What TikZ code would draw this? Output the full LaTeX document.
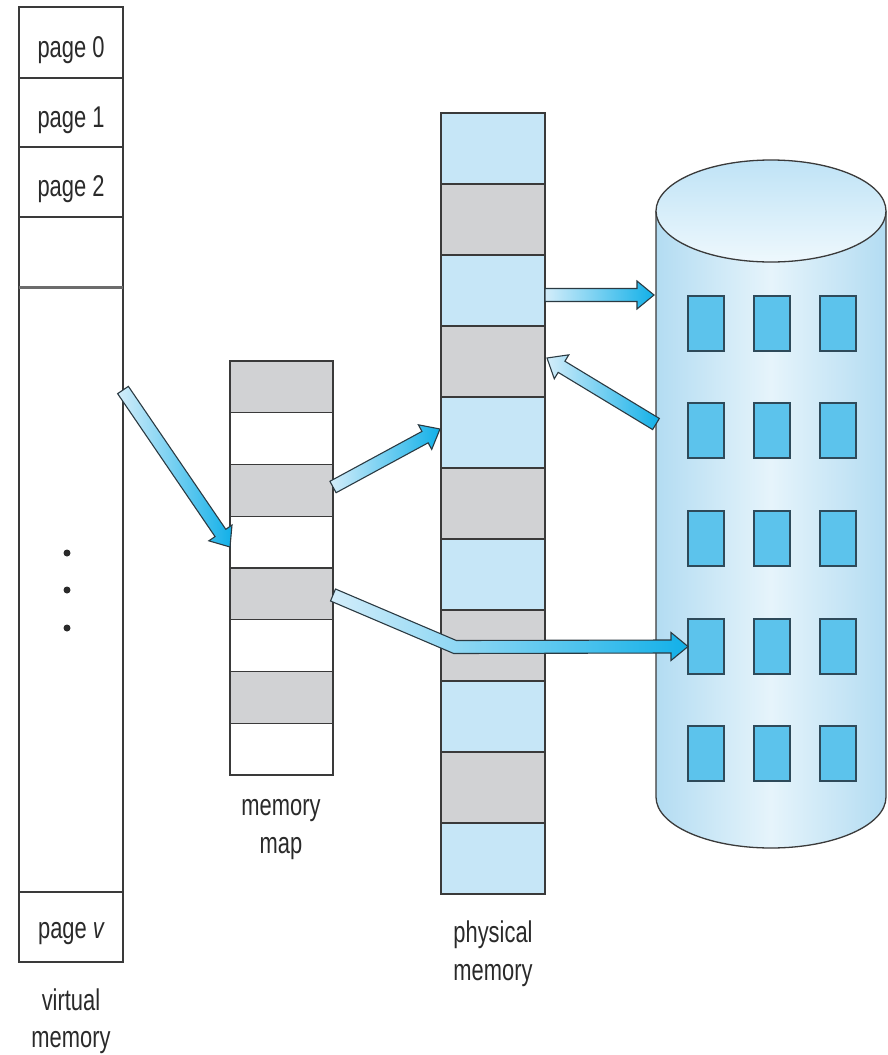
\documentclass[tikz,border=0pt]{standalone}
\usepackage{fontspec}
\newfontfamily\lbl{Liberation Sans}[FakeStretch=0.73]
\usetikzlibrary{calc}

\definecolor{boxline}{HTML}{3A3A3A}
\definecolor{cellgray}{HTML}{D1D2D4}
\definecolor{cellblue}{HTML}{C6E6F7}
\definecolor{cyledge}{HTML}{B3DCF2}
\definecolor{cylmid}{HTML}{E6F4FB}
\definecolor{captop}{HTML}{BFE3F6}
\definecolor{capbot}{HTML}{EEF8FD}
\definecolor{blockfill}{HTML}{5CC3EC}
\definecolor{blockline}{HTML}{2E4A5A}
\definecolor{arrowlight}{HTML}{D3EDFA}
\definecolor{arrowcyan}{HTML}{12B0E8}
\definecolor{arrowline}{HTML}{2B3A42}
\definecolor{textcol}{HTML}{2A2A2A}

\tikzset{
  cell/.style={draw=boxline, line width=1.3pt, inner sep=0pt, outer sep=0pt, anchor=north west},
  vcell/.style={cell, fill=white, minimum width=104pt},
  mcell/.style={cell, minimum width=103pt, minimum height=51.75pt},
  pcell/.style={cell, minimum width=104pt, minimum height=71pt},
  block/.style={draw=blockline, fill=blockfill, line width=1.3pt, inner sep=0pt, outer sep=0pt,
    minimum width=36pt, minimum height=55pt, anchor=north west},
  label/.style={font=\lbl\fontsize{30}{38}\selectfont, text=textcol, inner sep=0pt, align=center},
  fatarrow/.style={draw=arrowline, line width=1.1pt, line join=miter,
    left color=arrowlight, right color=arrowcyan},
}

% broad outlined arrow from one named point to another
\newcommand\fatarrow[2]{%
  \path let \p1=($(#2)-(#1)$) in \pgfextra{%
    \pgfmathsetmacro\fatlen{veclen(\x1,\y1)}%
    \pgfmathsetmacro\fatang{atan2(\y1,\x1)}%
    \global\let\fatlen\fatlen\global\let\fatang\fatang};
  \begin{scope}[shift={(#1)}, x={(1pt,0pt)}, y={(0pt,1pt)}, rotate=\fatang]
    \shade[fatarrow] (0,-6.5) -- ({\fatlen-17},-6.5) -- ({\fatlen-17},-14) -- (\fatlen,0)
      -- ({\fatlen-17},14) -- ({\fatlen-17},6.5) -- (0,6.5) -- cycle;
  \end{scope}}

\begin{document}
\begin{tikzpicture}[x=1pt, y=-1pt]
\useasboundingbox (0,0) rectangle (887,1055);

% ---- virtual memory ----
\node[vcell, minimum height=71pt] (vm0) at (19,7) {};
\node[vcell, minimum height=69pt] (vm1) at (19,78) {};
\node[vcell, minimum height=70pt] (vm2) at (19,147) {};
\node[vcell, minimum height=70pt] (vm3) at (19,217) {};
\node[vcell, minimum height=605pt] (vm4) at (19,287) {};
\node[vcell, minimum height=70pt] (vmv) at (19,892) {};
\draw[line width=3pt, draw=gray!85!black] (vm3.south west) -- (vm3.south east);
\draw[line width=2pt, draw=boxline] (vmv.south west) -- (vmv.south east);
\node[label, anchor=base] at (71,57) {page 0};
\node[label, anchor=base] at (71,127) {page 1};
\node[label, anchor=base] at (71,196) {page 2};
\node[label, anchor=base] at (71,938) {page {\itshape v}};
\foreach \yy in {553,590,628} \fill[textcol] (67,\yy) circle (3.5);
\node[label, anchor=base] at (71,1010) {virtual};
\node[label, anchor=base] at (71,1047) {memory};

% ---- memory map ----
\foreach \i in {0,...,7}{
  \ifodd\i \def\cf{white}\else\def\cf{cellgray}\fi
  \node[mcell, fill=\cf] (mm\i) at (230,{361+51.75*\i}) {};
}
\node[label, anchor=base] at (281,815) {memory};
\node[label, anchor=base] at (281,853) {map};

% ---- physical memory ----
\foreach \i in {0,...,10}{
  \ifodd\i \def\cf{cellgray}\else\def\cf{cellblue}\fi
  \node[pcell, fill=\cf] (pm\i) at (441,{113+71*\i}) {};
}
\node[label, anchor=base] at (493,942) {physical};
\node[label, anchor=base] at (493,980) {memory};

% ---- backing store cylinder ----
\coordinate (cyltop) at (771,211);
\shade[left color=cyledge, right color=cyledge, middle color=cylmid]
  (656,211) -- (656,797) arc[start angle=180, end angle=0, x radius=115, y radius=51]
  -- (886,211) -- cycle;
\draw[draw=boxline, line width=1.3pt]
  (656,211) -- (656,797) arc[start angle=180, end angle=0, x radius=115, y radius=51]
  -- (886,211);
\shade[top color=captop, bottom color=capbot, draw=boxline, line width=1.3pt]
  (cyltop) ellipse[x radius=115, y radius=51];
\foreach \r/\yy in {0/296,1/403,2/511,3/619,4/726}
  \foreach \c/\xx in {0/688,1/754,2/820}
    \node[block] (sq\r\c) at (\xx,\yy) {};

% ---- transfers ----
\coordinate (a1s) at (123,390);
\coordinate (a1t) at (230,547);
\coordinate (a2s) at (333,487);
\coordinate (a2t) at (440,429);
\coordinate (a3s) at (545,295);
\coordinate (a3t) at (654,295);
\coordinate (a4s) at (656,424);
\coordinate (a4t) at (547,358);
\fatarrow{a1s}{a1t}
\fatarrow{a2s}{a2t}
\fatarrow{a3s}{a3t}
\fatarrow{a4s}{a4t}

% bent arrow from the memory map to a disk block
\coordinate (a5s) at (333,595);
\coordinate (a5b) at (455,647);
\coordinate (a5t) at (sq30.west);
\shade[fatarrow]
  ($(a5s)+(2.5,-6)$) -- ($(a5b)+(1.4,-6.5)$) -- ($(a5t)+(-17,-6.5)$) -- ($(a5t)+(-17,-14)$)
  -- (a5t) -- ($(a5t)+(-17,14)$) -- ($(a5t)+(-17,6.5)$) -- ($(a5b)+(-1.3,6.5)$)
  -- ($(a5s)+(-2.5,6)$) -- cycle;
\end{tikzpicture}
\end{document}
